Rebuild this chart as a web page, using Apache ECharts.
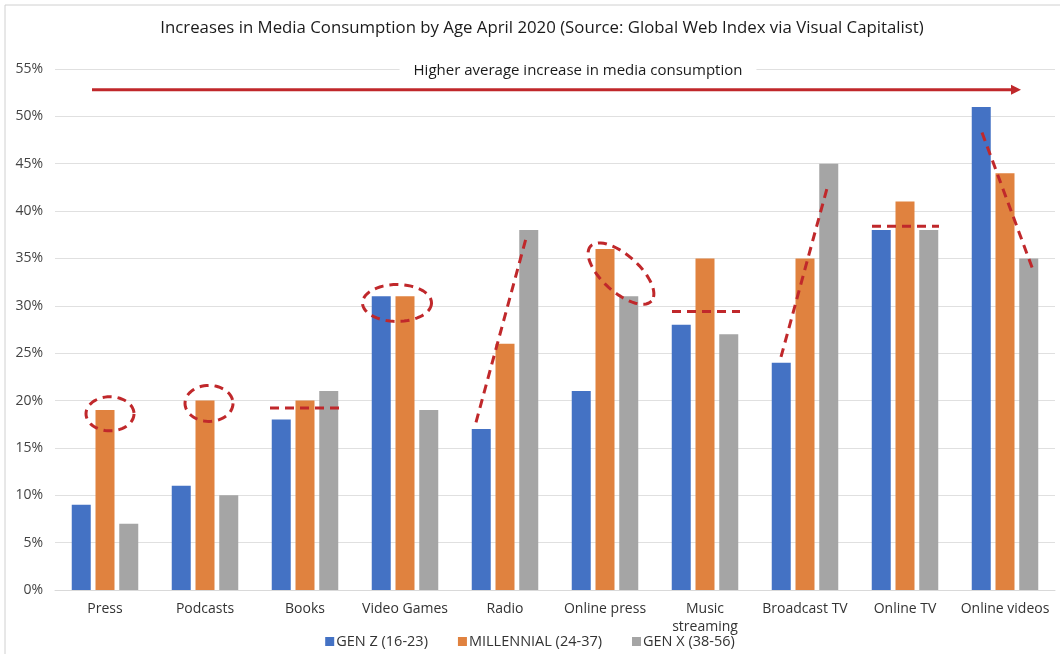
<!DOCTYPE html>
<html>
<head>
<meta charset="utf-8">
<script src="https://cdn.jsdelivr.net/npm/echarts@6/dist/echarts.min.js"></script>
<style>
  html, body { margin: 0; padding: 0; background: #fff; }
  #chart-content { width: 1060px; height: 654px; }
</style>
</head>
<body>
<div id="chart-content"></div>
<script>
var categories = ['Press', 'Podcasts', 'Books', 'Video Games', 'Radio', 'Online press', 'Music\nstreaming', 'Broadcast TV', 'Online TV', 'Online videos'];
var genZ = [9, 11, 18, 31, 17, 21, 28, 24, 38, 51];
var millennial = [19, 20, 20, 31, 26, 36, 35, 35, 41, 44];
var genX = [7, 10, 21, 19, 38, 31, 27, 45, 38, 35];
var seriesNames = ['GEN Z (16-23)', 'MILLENNIAL (24-37)', 'GEN X (38-56)'];

// annotations: [category, offset in band, value]
var ellipses = [
    {cat: 0, dx: 0.05, v: 18.6, rx: 0.24, ry: 1.8, rot: 0},
    {cat: 1, dx: 0.04, v: 19.7, rx: 0.24, ry: 1.9, rot: 0},
    {cat: 3, dx: -0.08, v: 30.3, rx: 0.345, ry: 1.95, rot: 0},
    {cat: 5, dx: 0.16, v: 33.4, rx: 0.41, ry: 1.95, rot: 42}
];
var dashLines = [
    [[2, -0.35, 19.2], [2, 0.38, 19.2]],
    [[4, -0.29, 17.7], [4, 0.22, 37.5]],
    [[6, -0.33, 29.4], [6, 0.35, 29.4]],
    [[7, -0.24, 24.6], [7, 0.22, 42.4]],
    [[8, -0.33, 38.4], [8, 0.34, 38.4]],
    [[9, -0.23, 48.3], [9, 0.29, 33.5]]
];
var arrowLine = [[0, -0.13, 52.8], [9, 0.15, 52.8]];
var arrowText = 'Higher average increase in media consumption';

var font = 'Open Sans';
var red = '#C0282B';

var myChart = echarts.init(document.getElementById('chart-content'));

myChart.setOption({
    animation: false,
    title: {
        text: 'Increases in Media Consumption by Age April 2020 (Source: Global Web Index via Visual Capitalist)',
        left: 537, top: 15, textAlign: 'center',
        textStyle: {fontFamily: font, fontSize: 16.8, fontWeight: 'normal', color: '#1a1a1a'}
    },
    legend: {
        data: seriesNames,
        bottom: 0, left: 'center',
        icon: 'rect', itemWidth: 9, itemHeight: 9, itemGap: 30,
        textStyle: {fontFamily: font, fontSize: 14.5, color: '#333', padding: [0, 0, 0, -3]}
    },
    grid: {left: 55, right: 5, top: 69, bottom: 64},
    xAxis: {
        type: 'category',
        data: categories,
        axisTick: {show: false},
        axisLine: {lineStyle: {color: '#d9d9d9'}},
        axisLabel: {fontFamily: font, fontSize: 14, color: '#333', margin: 10, interval: 0, lineHeight: 18}
    },
    yAxis: {
        type: 'value',
        min: 0, max: 55, interval: 5,
        axisLabel: {formatter: '{value}%', fontFamily: font, fontSize: 14, color: '#444', margin: 12},
        splitLine: {lineStyle: {color: '#e0e0e0'}}
    },
    series: [
        {name: seriesNames[0], type: 'bar', data: genZ, barWidth: 19, barGap: '25%', itemStyle: {color: '#4472C4'}},
        {name: seriesNames[1], type: 'bar', data: millennial, barWidth: 19, barGap: '25%', itemStyle: {color: '#E0823F'}},
        {name: seriesNames[2], type: 'bar', data: genX, barWidth: 19, barGap: '25%', itemStyle: {color: '#A5A5A5'}}
    ]
});

function toPx(cat, dx, v) {
    var p0 = myChart.convertToPixel({gridIndex: 0}, [0, 0]);
    var p1 = myChart.convertToPixel({gridIndex: 0}, [1, 0]);
    var bw = p1[0] - p0[0];
    var p = myChart.convertToPixel({gridIndex: 0}, [cat, v]);
    return [p[0] + dx * bw, p[1]];
}

function drawAnnotations() {
    var p0 = myChart.convertToPixel({gridIndex: 0}, [0, 0]);
    var p1 = myChart.convertToPixel({gridIndex: 0}, [1, 0]);
    var bw = p1[0] - p0[0];
    var pxPerVal = p0[1] - myChart.convertToPixel({gridIndex: 0}, [0, 1])[1];
    var els = [];
    var dashStyle = {stroke: red, lineWidth: 3, lineDash: [9, 6], fill: null};

    ellipses.forEach(function (e) {
        var c = toPx(e.cat, e.dx, e.v);
        var a = e.rx * bw, b = e.ry * pxPerVal;
        var phi = e.rot * Math.PI / 180;
        var pts = [];
        for (var i = 0; i < 60; i++) {
            var t = i / 60 * Math.PI * 2;
            pts.push([
                c[0] + a * Math.cos(t) * Math.cos(phi) - b * Math.sin(t) * Math.sin(phi),
                c[1] + a * Math.cos(t) * Math.sin(phi) + b * Math.sin(t) * Math.cos(phi)
            ]);
        }
        els.push({type: 'polygon', shape: {points: pts}, style: dashStyle, z: 100});
    });

    dashLines.forEach(function (l) {
        var a = toPx(l[0][0], l[0][1], l[0][2]);
        var b = toPx(l[1][0], l[1][1], l[1][2]);
        els.push({type: 'line', shape: {x1: a[0], y1: a[1], x2: b[0], y2: b[1]}, style: {stroke: red, lineWidth: 3, lineDash: [9, 6]}, z: 100});
    });

    var s = toPx(arrowLine[0][0], arrowLine[0][1], arrowLine[0][2]);
    var e = toPx(arrowLine[1][0], arrowLine[1][1], arrowLine[1][2]);
    els.push({type: 'line', shape: {x1: s[0], y1: s[1], x2: e[0] - 6, y2: e[1]}, style: {stroke: red, lineWidth: 3}, z: 100});
    els.push({type: 'polygon', shape: {points: [[e[0] - 9, e[1] - 5], [e[0] + 1, e[1]], [e[0] - 9, e[1] + 5]]}, style: {fill: red}, z: 100});

    var top = myChart.convertToPixel({gridIndex: 0}, [0, 55]);
    var midX = (s[0] + e[0]) / 2 + 22;
    els.push({
        type: 'text', x: midX, y: top[1] + 2, z: 100,
        style: {
            text: arrowText, align: 'center', verticalAlign: 'middle',
            font: '15px ' + font, fill: '#1a1a1a',
            backgroundColor: '#fff', padding: [2, 14]
        }
    });

    els.push({type: 'rect', shape: {x: 5, y: 5, width: 1060, height: 660}, style: {stroke: '#d0d0d0', fill: null, lineWidth: 1}, z: 0});

    myChart.setOption({graphic: els});
}

drawAnnotations();
</script>
</body>
</html>
